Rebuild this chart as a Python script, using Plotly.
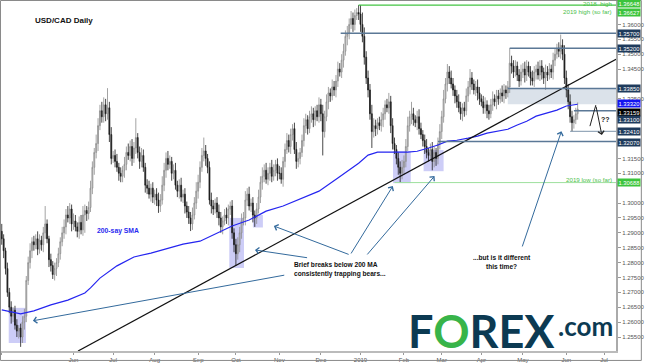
import numpy as np
import pandas as pd
import plotly.graph_objects as go

# ---------------- data ----------------
start_date = "2018-04-10"
first_open = 1.2905
closes = [
    1.2880, 1.2840, 1.2780, 1.2700, 1.2650, 1.2620, 1.2640, 1.2590, 1.2570, 1.2580, 1.2550, 1.2600, 1.2620, 1.2740, 1.2800, 1.2840,
    1.2870, 1.2860, 1.2880, 1.2845, 1.2875, 1.2860, 1.2900, 1.2930, 1.2880, 1.2810, 1.2790, 1.2760, 1.2780, 1.2800, 1.2830, 1.2870, 1.2900, 1.2920, 1.2960, 1.2950, 1.2980, 1.2930,
    1.2940, 1.2920, 1.2905, 1.2935, 1.2910, 1.2960, 1.2975, 1.2965, 1.2985, 1.3050, 1.3120, 1.3170, 1.3200, 1.3260, 1.3310, 1.3290, 1.3330, 1.3300, 1.3320, 1.3230, 1.3150,
    1.3160, 1.3140, 1.3120, 1.3100, 1.3090, 1.3110, 1.3130, 1.3170, 1.3160, 1.3190, 1.3150, 1.3185, 1.3220, 1.3170, 1.3140, 1.3160, 1.3120, 1.3060, 1.3050, 1.3030, 1.3050, 1.3020,
    1.3030, 1.3010, 1.2990, 1.3010, 1.3060, 1.3110, 1.3150, 1.3130, 1.3140, 1.3100, 1.3110, 1.3060, 1.3040, 1.3060, 1.3020, 1.3030, 1.2990, 1.2970, 1.2950, 1.2930, 1.2960, 1.3000, 1.3040,
    1.3070, 1.3120, 1.3160, 1.3175, 1.3150, 1.3120, 1.3010, 1.2990, 1.2980, 1.3000, 1.2970, 1.2950, 1.2920, 1.2940, 1.2960, 1.2950, 1.2980, 1.2990, 1.2900, 1.2860,
    1.2830, 1.2860, 1.2900, 1.2940, 1.2950, 1.3010, 1.3030, 1.2990, 1.3000, 1.2960, 1.2950, 1.2980, 1.3020, 1.3070, 1.3090, 1.3110, 1.3080, 1.3100, 1.3120, 1.3090, 1.3110, 1.3130, 1.3100,
    1.3100, 1.3080, 1.3140, 1.3180, 1.3210, 1.3190, 1.3230, 1.3250, 1.3180, 1.3140, 1.3150, 1.3170, 1.3210, 1.3260, 1.3280, 1.3250, 1.3290, 1.3300, 1.3280, 1.3310, 1.3290, 1.3330,
    1.3300, 1.3240, 1.3290, 1.3340, 1.3370, 1.3360, 1.3390, 1.3380, 1.3410, 1.3450, 1.3440, 1.3480, 1.3510, 1.3560, 1.3570, 1.3600, 1.3620, 1.3600, 1.3630, 1.3640, 1.3635,
    1.3600, 1.3560, 1.3490, 1.3420, 1.3380, 1.3300, 1.3240, 1.3260, 1.3250, 1.3270, 1.3260, 1.3280, 1.3300, 1.3330, 1.3320, 1.3340, 1.3260, 1.3200, 1.3180, 1.3150, 1.3120, 1.3100, 1.3120,
    1.3140, 1.3190, 1.3260, 1.3290, 1.3300, 1.3280, 1.3270, 1.3290, 1.3250, 1.3230, 1.3210, 1.3190, 1.3170, 1.3160, 1.3180, 1.3140, 1.3170, 1.3150, 1.3200, 1.3240,
    1.3290, 1.3350, 1.3400, 1.3440, 1.3420, 1.3400, 1.3380, 1.3360, 1.3340, 1.3320, 1.3300, 1.3320, 1.3310, 1.3360, 1.3390, 1.3420, 1.3400, 1.3380, 1.3390, 1.3370, 1.3350,
    1.3340, 1.3320, 1.3330, 1.3310, 1.3300, 1.3330, 1.3350, 1.3340, 1.3360, 1.3350, 1.3370, 1.3360, 1.3380, 1.3370, 1.3390, 1.3470, 1.3460, 1.3440, 1.3460, 1.3430, 1.3410, 1.3440,
    1.3450, 1.3430, 1.3460, 1.3440, 1.3420, 1.3410, 1.3440, 1.3450, 1.3430, 1.3460, 1.3440, 1.3420, 1.3440, 1.3430, 1.3450, 1.3440, 1.3480, 1.3500, 1.3520, 1.3510, 1.3530, 1.3500, 1.3420,
    1.3380, 1.3340, 1.3290, 1.3270, 1.3280, 1.3300, 1.3316,
]
# upper / lower wick lengths in pips
hi_ext = [
    25,15,10,20,15,20,10,15,20,10,15,20,25,15,20,25,15,20,15,25,
    20,15,20,60,15,10,20,15,20,15,20,15,20,25,20,30,20,15,25,20,
    15,20,25,30,20,15,20,25,20,15,30,25,20,30,25,20,66,20,25,15,
    20,25,15,20,15,25,20,30,20,25,20,65,15,20,25,20,15,20,25,15,
    20,15,20,25,20,30,25,20,25,20,15,20,25,15,20,25,15,20,15,20,
    20,25,20,30,25,20,25,45,20,15,20,25,20,15,20,25,20,15,20,25,
    15,15,20,15,20,25,20,25,20,30,20,25,15,20,15,20,25,20,30,20,
    25,20,15,25,20,15,20,25,20,15,20,25,20,20,15,20,25,20,15,20,
    25,20,15,20,25,20,15,20,25,20,30,20,25,20,15,25,20,20,25,20,
    20,25,20,25,20,25,20,20,15,25,30,40,30,20,25,20,30,25,20,15,
    20,25,20,15,20,30,20,25,20,15,20,20,25,20,25,30,20,40,20,15,
    20,25,20,15,20,25,15,20,25,20,15,20,25,20,30,20,27,20,25,20,
    15,20,25,20,15,20,25,20,30,20,15,20,25,20,15,20,25,15,20,20,
    25,15,20,20,15,25,20,15,20,50,25,20,20,15,20,25,20,25,20,15,
    20,25,20,15,25,20,20,15,25,20,20,15,25,20,15,20,36,20,30,25,
    20,25,20,15,20,22,
]
lo_ext = [
    20,25,20,15,20,25,20,15,20,25,33,20,25,20,15,20,25,20,15,20,
    15,20,25,20,15,25,20,15,20,25,15,20,15,20,25,15,20,25,20,15,
    20,25,15,20,60,25,20,15,20,25,20,25,15,20,20,25,20,25,20,15,
    20,15,25,20,20,25,20,15,20,25,15,20,20,25,20,15,25,20,15,25,
    20,25,20,23,20,15,20,25,20,15,25,20,15,20,25,15,20,25,20,20,
    24,20,15,20,25,20,15,20,25,20,15,25,20,15,20,25,20,25,15,20,
    25,20,20,25,40,20,25,20,15,25,20,15,20,25,30,20,15,20,25,20,
    15,20,25,20,15,20,25,20,15,25,20,15,20,25,20,15,25,20,20,15,
    20,25,20,15,20,25,20,15,20,25,80,20,15,25,20,15,20,25,20,15,
    20,25,15,30,20,15,25,20,15,20,25,20,25,20,25,20,55,20,25,20,
    15,20,25,20,15,20,25,20,15,20,25,31,20,25,20,15,20,25,20,15,
    25,20,15,20,25,20,20,15,30,20,25,20,20,25,20,15,25,20,15,20,
    25,20,15,20,25,20,15,20,25,20,15,20,25,20,15,20,20,25,20,15,
    20,15,25,20,15,20,25,20,15,20,25,20,15,20,20,15,20,25,20,15,
    25,15,20,25,15,20,25,20,40,20,15,20,25,20,15,20,25,20,20,25,
    25,20,29,20,15,20,
]

# 200-day SMA, read at bar positions
sma_idx = [0,10,17,26,35,44,47,52,61,70,79,88,96,105,114,122,131,140,149,157,
           168,178,189,194,199,215,220,226,231,236,241,247,252,257,262,268,273,278,283,289,
           294,299,305]
sma_val = [1.2641,1.2628,1.2638,1.2658,1.2674,1.2698,1.2715,1.2748,1.2789,1.2819,
           1.2832,1.2849,1.2862,1.2872,1.2899,1.2923,1.2943,1.2973,1.2990,1.3010,
           1.3040,1.3084,1.3134,1.3161,1.3171,1.3171,1.3174,1.3185,1.3195,1.3208,
           1.3211,1.3218,1.3225,1.3235,1.3242,1.3248,1.3262,1.3275,1.3292,1.3302,
           1.3312,1.3326,1.3332]

# rising trend line (two anchor points: bar index, price)
trend_x = [40.4, 325.3]
trend_y = [1.2503, 1.3483]

# horizontal levels: value, first bar, colour, width
level_vals   = [1.36648, 1.35700, 1.35200, 1.33850, 1.33100, 1.32410, 1.32070, 1.30688]
level_start  = [189, 179.5, 269, 268, 303, 301, 231, 208]
level_colors = ["#43c443", "#5b7896", "#5b7896", "#5b7896", "#5b7896", "#7d94ab", "#5b7896", "#9ee09e"]
level_widths = [1.3, 1.5, 1.5, 1.5, 1.3, 1.0, 1.5, 1.0]

# right-hand price tags: text, value, background, pixel shift
tag_text  = ["1.36648", "1.36627", "1.35700", "1.35200", "1.33850", "1.33320", "1.33159", "1.33100", "1.32410", "1.32070", "1.30688"]
tag_vals  = [1.36648, 1.36627, 1.35700, 1.35200, 1.33850, 1.33320, 1.33159, 1.33100, 1.32410, 1.32070, 1.30688]
tag_bg    = ["#3cc43c", "#3cc43c", "#1f3b5c", "#1f3b5c", "#1f3b5c", "#1414f0", "#000000", "#1f3b5c", "#1f3b5c", "#1f3b5c", "#3cc43c"]
tag_shift = [2, -7, 0, 0, 0, 1, -3, -9, 0, -1, 0]

# y-axis tick labels that stay visible beside the tags
ytick_vals = [1.255, 1.260, 1.265, 1.270, 1.275, 1.280, 1.285, 1.290, 1.295, 1.300, 1.310, 1.315, 1.335, 1.345, 1.350, 1.355, 1.360]

# highlighted zones: bar from, bar to, price low, price high
zone_x0 = [3.7, 120.5, 133.0, 207.2, 223.4]
zone_x1 = [12.8, 128.3, 138.3, 216.6, 234.0]
zone_y0 = [1.2530, 1.2782, 1.2918, 1.3067, 1.3107]
zone_y1 = [1.2648, 1.2950, 1.2960, 1.3174, 1.3178]

month_labels = ["Apr", "Jun", "Jul", "Aug", "Sep", "Oct", "Nov", "Dec", "2019", "Feb", "Mar", "Apr", "May", "Jun", "Jul"]
month_keys   = ["2018-04", "2018-06", "2018-07", "2018-08", "2018-09", "2018-10", "2018-11", "2018-12",
                "2019-01", "2019-02", "2019-03", "2019-04", "2019-05", "2019-06", "2019-07"]

# ---------------- build ----------------
N = len(closes)
xs = np.arange(N)
opens = [first_open] + closes[:-1]
highs = [max(o, c) + h / 10000 for o, c, h in zip(opens, closes, hi_ext)]
lows = [min(o, c) - l / 10000 for o, c, l in zip(opens, closes, lo_ext)]

days = pd.bdate_range(start_date, periods=340)
ym = days.strftime("%Y-%m")
tickvals = [int(np.argmax(ym == k)) for k in month_keys]

XMIN, XMAX = -0.4, 325.3
YMIN, YMAX = 1.25031, 1.36787

fig = go.Figure()

shapes = []
for x0, x1, y0, y1 in zip(zone_x0, zone_x1, zone_y0, zone_y1):
    shapes.append(dict(type="rect", xref="x", yref="y", x0=x0, x1=x1, y0=y0, y1=y1,
                       fillcolor="rgba(135,135,235,0.42)", line=dict(width=0), layer="below"))
shapes.append(dict(type="rect", xref="x", yref="y", x0=268, x1=XMAX, y0=1.3332, y1=1.3385,
                   fillcolor="rgba(160,178,200,0.38)", line=dict(width=0), layer="below"))
for v, s, c, w in zip(level_vals, level_start, level_colors, level_widths):
    shapes.append(dict(type="line", xref="x", yref="y", x0=s, x1=XMAX, y0=v, y1=v,
                       line=dict(color=c, width=w)))
# frame around whole picture
shapes.append(dict(type="rect", xref="paper", yref="paper", x0=-0.0008, x1=1.0412, y0=-0.027, y1=1.0014,
                   line=dict(color="#8a8a8a", width=1)))
# "??" zigzag first leg
shapes.append(dict(type="line", xref="x", yref="y", x0=311.5, y0=1.32584, x1=314.6, y1=1.33289,
                   line=dict(color="#222", width=1)))

fig.add_trace(go.Candlestick(
    x=xs, open=opens, high=highs, low=lows, close=closes,
    increasing=dict(line=dict(color="#8c8c8c", width=0.8), fillcolor="#d0d0d0"),
    decreasing=dict(line=dict(color="#1a1a1a", width=0.8), fillcolor="#1a1a1a"),
    whiskerwidth=0, hoverinfo="skip"))

fig.add_trace(go.Scatter(x=sma_idx, y=sma_val, mode="lines",
                         line=dict(color="#2525f0", width=1.2), hoverinfo="skip"))
fig.add_trace(go.Scatter(x=trend_x, y=trend_y, mode="lines",
                         line=dict(color="#111111", width=1.2), hoverinfo="skip"))

ann = []
for t, v, bg, sh in zip(tag_text, tag_vals, tag_bg, tag_shift):
    ann.append(dict(xref="paper", yref="y", x=1, y=v, xanchor="left", yanchor="middle",
                    xshift=1, yshift=sh, text=t, showarrow=False, bgcolor=bg, borderpad=0.5,
                    font=dict(family="Liberation Sans", size=5.8, color="white")))

green_txt = "#4cc04c"
for t, v in [("2018  high", 1.36712), ("2019 high (so far)", 1.36444), ("2019 low (so far)", 1.30781)]:
    ann.append(dict(xref="paper", yref="y", x=0.9968, y=v, xanchor="right", yanchor="middle",
                    text=t, showarrow=False, font=dict(family="Liberation Sans", size=6.2, color=green_txt)))

ann.append(dict(xref="paper", yref="paper", x=0.0517, y=0.944, xanchor="left", yanchor="middle",
                text="<b>USD/CAD Daily</b>", showarrow=False,
                font=dict(family="Liberation Sans", size=8, color="#111")))
ann.append(dict(xref="x", yref="y", x=61.6, y=1.29062, xanchor="center", yanchor="middle",
                text="<b>200-say SMA</b>", showarrow=False,
                font=dict(family="Liberation Sans", size=6.8, color="#2a2af0")))
ann.append(dict(xref="x", yref="y", x=153.5, y=1.27755, xanchor="left", yanchor="middle", align="left",
                text="<b>Brief breaks below 200 MA<br>consistently trapping bears...</b>", showarrow=False,
                font=dict(family="Liberation Sans", size=6.6, color="#111")))
ann.append(dict(xref="x", yref="y", x=264.9, y=1.28006, xanchor="center", yanchor="middle", align="center",
                text="<b>...but is it different<br>this time?</b>", showarrow=False,
                font=dict(family="Liberation Sans", size=6.6, color="#111")))
ann.append(dict(xref="x", yref="y", x=319.8, y=1.32815, xanchor="center", yanchor="middle",
                text="<b>??</b>", showarrow=False,
                font=dict(family="Liberation Sans", size=7, color="#222")))

# arrows: (tail bar, tail price) -> (head bar, head price)
arrow_col = "#336a9c"
arrows = [((150.4, 1.27587), (16.5, 1.26046)),
          ((162.5, 1.28157), (134.1, 1.28425)),
          ((184.5, 1.28257), (144.1, 1.29229)),
          ((184.5, 1.28257), (207.1, 1.30570)),
          ((192.9, 1.28224), (229.2, 1.30905)),
          ((275.4, 1.28492), (296.4, 1.32413))]
for (tx, ty), (hx, hy) in arrows:
    ann.append(dict(xref="x", yref="y", axref="x", ayref="y", x=hx, y=hy, ax=tx, ay=ty,
                    text="", showarrow=True, arrowhead=4, arrowsize=1.2, arrowwidth=1,
                    arrowcolor=arrow_col, standoff=0))
ann.append(dict(xref="x", yref="y", axref="x", ayref="y", x=317.8, y=1.32282, ax=314.6, ay=1.33289,
                text="", showarrow=True, arrowhead=4, arrowsize=1.2, arrowwidth=1,
                arrowcolor="#222", standoff=0))

# logo
ann.append(dict(xref="paper", yref="paper", x=0.782, y=0.057, xanchor="center", yanchor="middle",
                text="<b>F<span style='color:#38b449'>O</span>REX</b>", showarrow=False,
                font=dict(family="Lato", size=45, color="#0c3a52")))
ann.append(dict(xref="paper", yref="paper", x=0.9505, y=0.071, xanchor="center", yanchor="middle",
                text="<b>.com</b>", showarrow=False,
                font=dict(family="Lato", size=26, color="#0c3a52")))

fig.update_layout(
    width=646, height=364, margin=dict(l=1, r=26, t=1, b=11),
    paper_bgcolor="white", plot_bgcolor="white", showlegend=False,
    shapes=shapes, annotations=ann,
    xaxis=dict(range=[XMIN, XMAX], rangeslider=dict(visible=False), showgrid=False, zeroline=False,
               tickvals=tickvals, ticktext=month_labels, ticks="outside", ticklen=2, tickcolor="#999",
               tickfont=dict(family="Liberation Sans", size=6, color="#555"),
               showline=True, linecolor="#bbbbbb", linewidth=1.5),
    yaxis=dict(range=[YMIN, YMAX], side="right", showgrid=False, zeroline=False,
               tickvals=ytick_vals, tickformat=".5f", ticks="outside", ticklen=3, tickcolor="#999",
               tickfont=dict(family="Liberation Sans", size=6, color="#555"),
               showline=True, linecolor="#aaaaaa", linewidth=2),
)

fig.write_html("out.html")
